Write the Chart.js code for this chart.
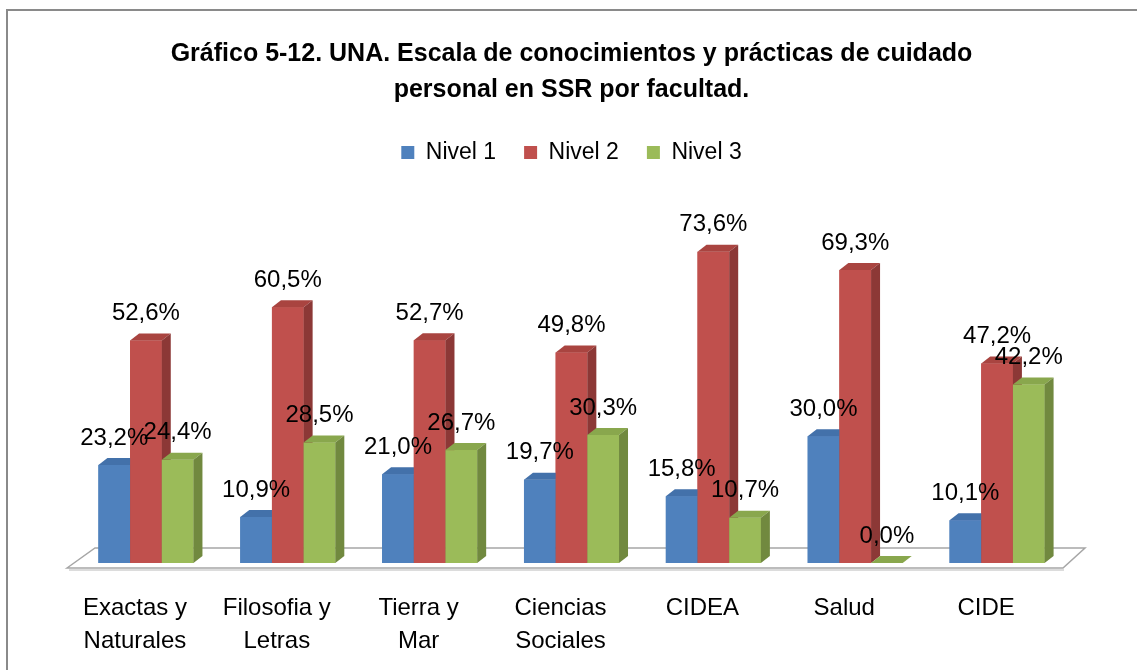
<!DOCTYPE html>
<html>
<head>
<meta charset="utf-8">
<script src="https://cdn.jsdelivr.net/npm/chart.js@4/dist/chart.umd.min.js"></script>
<style>
  body { margin: 0; background: #fff; }
  #marco { position: absolute; left: 0; top: 0; width: 1137px; height: 670px; }
</style>
</head>
<body>
<div id="marco"><canvas id="grafico"></canvas></div>
<script>
// datos
var facultades = [["Exactas y", "Naturales"], ["Filosofia y", "Letras"], ["Tierra y", "Mar"], ["Ciencias", "Sociales"], ["CIDEA"], ["Salud"], ["CIDE"]];
var nivel1 = [23.2, 10.9, 21.0, 19.7, 15.8, 30.0, 10.1];
var nivel2 = [52.6, 60.5, 52.7, 49.8, 73.6, 69.3, 47.2];
var nivel3 = [24.4, 28.5, 26.7, 30.3, 10.7, 0.0, 42.2];
var nombresSeries = ["Nivel 1", "Nivel 2", "Nivel 3"];

var fuente = "'Liberation Sans', Arial, sans-serif";

// colores de cada serie: frente, tapa, lado
var caras = [
  { frente: "#4F81BD", tapa: "#4371AA", lado: "#385D8A" },
  { frente: "#C0504D", tapa: "#A94440", lado: "#8C3836" },
  { frente: "#9BBB59", tapa: "#89A74D", lado: "#71893F" }
];
var fondoX = 9, fondoY = 7;

function formato(v) {
  return v.toFixed(1).replace(".", ",") + "%";
}

// marco gris alrededor del grafico
var marcoPlugin = {
  id: "marco",
  beforeDraw: function (chart) {
    var ctx = chart.ctx;
    ctx.save();
    ctx.fillStyle = "#fff";
    ctx.fillRect(0, 0, chart.width, chart.height);
    ctx.strokeStyle = "#8a8a8a";
    ctx.lineWidth = 2;
    ctx.strokeRect(7, 10, chart.width + 20, chart.height + 20);
    ctx.restore();
  }
};

// piso en perspectiva
var pisoPlugin = {
  id: "piso",
  beforeDatasetsDraw: function (chart) {
    var a = chart.chartArea, ctx = chart.ctx;
    ctx.save();
    ctx.strokeStyle = "#a6a6a6";
    ctx.fillStyle = "#ffffff";
    ctx.lineWidth = 1.5;
    ctx.beginPath();
    ctx.moveTo(a.left - 8, a.bottom + 5);
    ctx.lineTo(a.left + 20, a.bottom - 15);
    ctx.lineTo(a.right + 17, a.bottom - 15);
    ctx.lineTo(a.right - 5, a.bottom + 5);
    ctx.closePath();
    ctx.fill();
    ctx.stroke();
    ctx.strokeStyle = "#d0d0d0";
    ctx.beginPath();
    ctx.moveTo(a.left - 6, a.bottom + 7);
    ctx.lineTo(a.right - 4, a.bottom + 7);
    ctx.stroke();
    ctx.restore();
  }
};

// barras con tapa y lado, mas etiquetas
var barras3D = {
  id: "barras3D",
  afterDatasetsDraw: function (chart) {
    var ctx = chart.ctx;
    var n = chart.data.labels.length;
    ctx.save();
    for (var i = 0; i < n; i++) {
      for (var s = 0; s < chart.data.datasets.length; s++) {
        var el = chart.getDatasetMeta(s).data[i];
        var l = el.x - el.width / 2, r = el.x + el.width / 2;
        var top = el.y, base = el.base;
        var c = caras[s];
        ctx.fillStyle = c.frente;
        ctx.fillRect(l, top, r - l, base - top);
        ctx.fillStyle = c.tapa;
        ctx.beginPath();
        ctx.moveTo(l, top);
        ctx.lineTo(l + fondoX, top - fondoY);
        ctx.lineTo(r + fondoX, top - fondoY);
        ctx.lineTo(r, top);
        ctx.closePath();
        ctx.fill();
        ctx.fillStyle = c.lado;
        ctx.beginPath();
        ctx.moveTo(r, top);
        ctx.lineTo(r + fondoX, top - fondoY);
        ctx.lineTo(r + fondoX, base - fondoY);
        ctx.lineTo(r, base);
        ctx.closePath();
        ctx.fill();
      }
    }
    ctx.fillStyle = "#000";
    ctx.font = "24px " + fuente;
    ctx.textAlign = "center";
    ctx.textBaseline = "middle";
    for (var s2 = 0; s2 < chart.data.datasets.length; s2++) {
      var meta = chart.getDatasetMeta(s2);
      meta.data.forEach(function (el, k) {
        var v = chart.data.datasets[s2].data[k];
        ctx.fillText(formato(v), el.x, el.y - 27);
      });
    }
    ctx.restore();
  }
};

new Chart(document.getElementById("grafico"), {
  type: "bar",
  data: {
    labels: facultades,
    datasets: [
      { label: nombresSeries[0], data: nivel1, backgroundColor: caras[0].frente },
      { label: nombresSeries[1], data: nivel2, backgroundColor: caras[1].frente },
      { label: nombresSeries[2], data: nivel3, backgroundColor: caras[2].frente }
    ]
  },
  options: {
    responsive: true,
    maintainAspectRatio: false,
    animation: false,
    layout: { padding: { left: 75, right: 69, top: 0, bottom: 0 } },
    datasets: { bar: { categoryPercentage: 0.67, barPercentage: 1 } },
    plugins: {
      title: {
        display: true,
        text: ["Gráfico 5-12. UNA. Escala de conocimientos y prácticas de cuidado", "personal en SSR por facultad."],
        color: "#000",
        font: { family: fuente, size: 25, weight: "bold", lineHeight: 1.44 },
        padding: { top: 36, bottom: 5 }
      },
      legend: {
        display: true,
        labels: {
          color: "#000",
          font: { family: fuente, size: 23 },
          boxWidth: 13,
          boxHeight: 13,
          padding: 28,
          sort: function (a, b) { return a.datasetIndex - b.datasetIndex; }
        }
      },
      tooltip: { enabled: false }
    },
    scales: {
      x: {
        grid: { display: false },
        border: { display: false },
        afterFit: function (scale) { scale.height = 107; },
        ticks: {
          color: "#000",
          font: { family: fuente, size: 24, lineHeight: 1.38 },
          padding: 21,
          labelOffset: -11,
          maxRotation: 0
        }
      },
      y: {
        display: false,
        min: 0,
        max: 92
      }
    }
  },
  plugins: [marcoPlugin, pisoPlugin, barras3D]
});
</script>
</body>
</html>
